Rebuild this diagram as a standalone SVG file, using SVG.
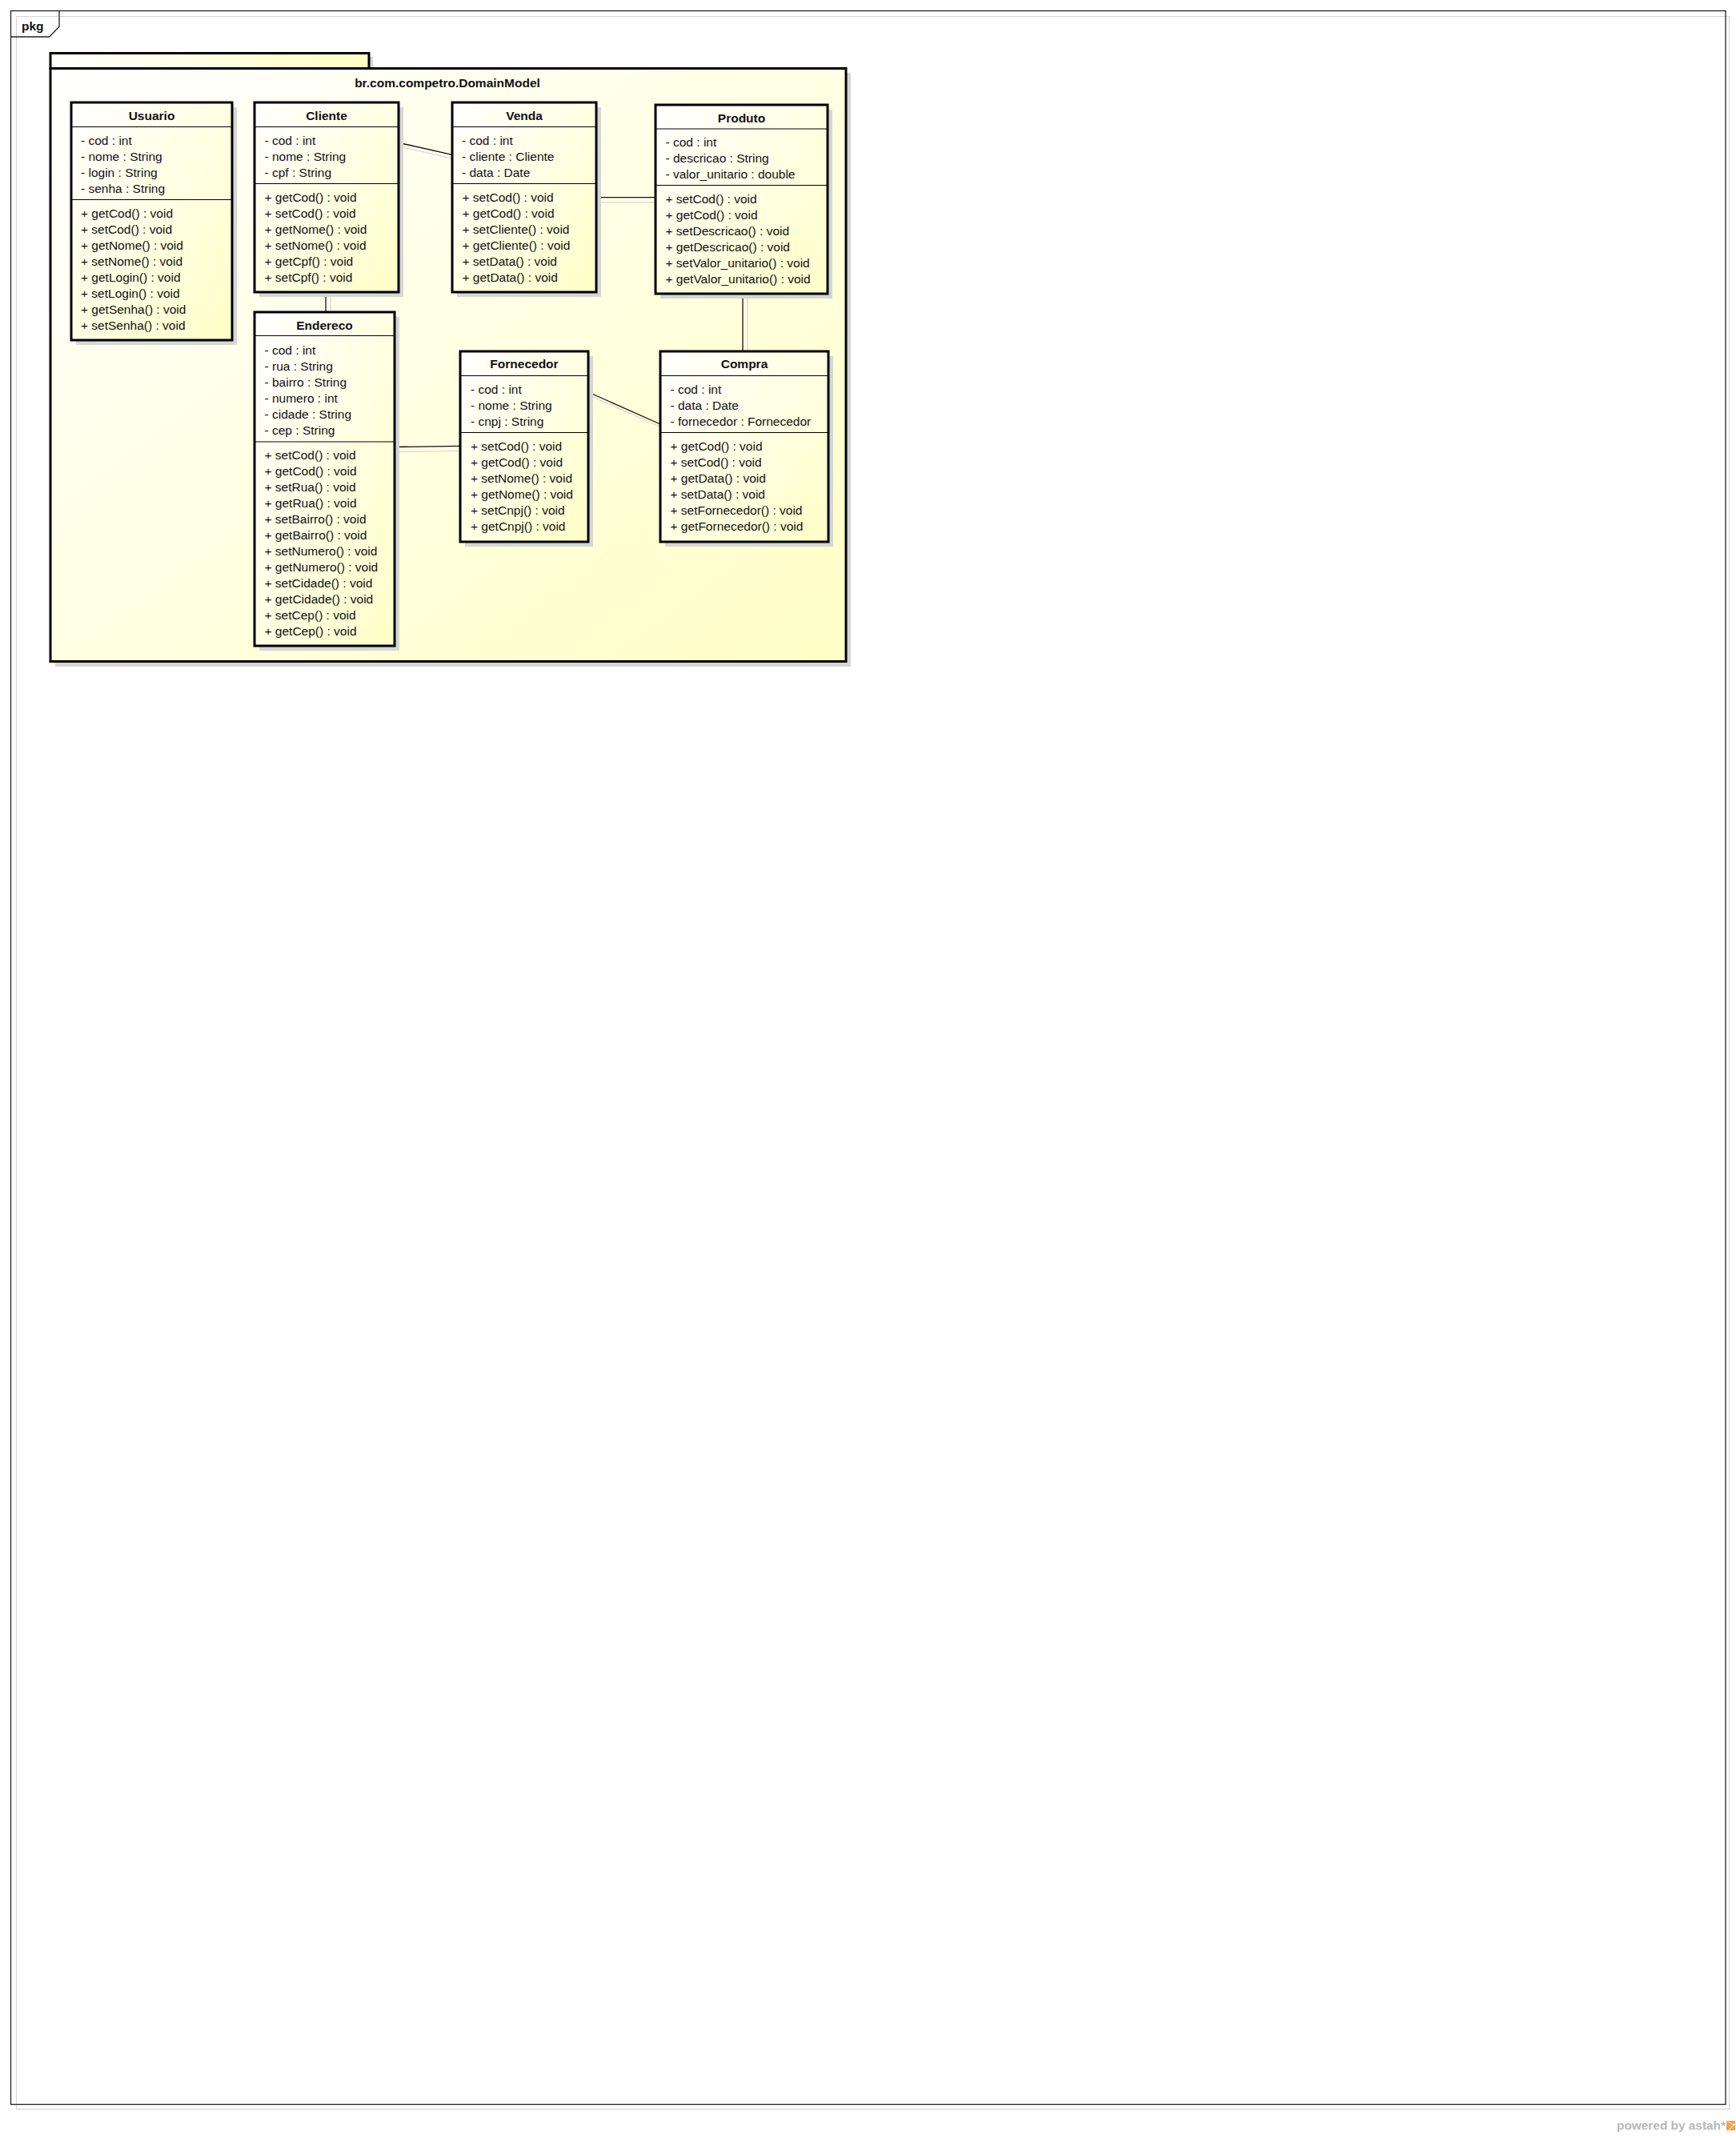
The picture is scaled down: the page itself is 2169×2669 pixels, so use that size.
<svg xmlns="http://www.w3.org/2000/svg" width="2169" height="2669" viewBox="0 0 2169 2669">
<style>
text{font-family:"Liberation Sans",Arial,sans-serif;font-size:15.5px;fill:#111}
.t{font-weight:bold;text-anchor:middle}
.box{fill:url(#cg);stroke:#000;stroke-width:3}
.sh{fill:#d6d6d6}
.div{stroke:#000;stroke-width:1.2}
.ln{stroke:#111;stroke-width:1.3;fill:none}
.lsh{stroke:#d9d9d9;stroke-width:1.3;fill:none}
</style>
<defs>
<linearGradient id="cg" x1="0" y1="0" x2="1" y2="1">
<stop offset="0" stop-color="#ffffff"/>
<stop offset="1" stop-color="#ffffc8"/>
</linearGradient>
<linearGradient id="pg" x1="0" y1="0" x2="1" y2="1">
<stop offset="0" stop-color="#ffffff"/>
<stop offset="1" stop-color="#ffffc6"/>
</linearGradient>
<linearGradient id="tg" x1="0" y1="0" x2="1" y2="0">
<stop offset="0" stop-color="#ffffff"/>
<stop offset="1" stop-color="#ffffc4"/>
</linearGradient>
</defs>
<rect width="2169" height="2669" fill="#fff"/>

<g id="frame">
<rect x="20.5" y="20.5" width="2140" height="2615" fill="none" stroke="#d8d8d8" stroke-width="1.2"/>
<rect x="13.5" y="13.5" width="2142.5" height="2616" fill="none" stroke="#222" stroke-width="1.3"/>
<path d="M13.5 46 H61.7 L74 33.3 V13.5" fill="none" stroke="#222" stroke-width="1.3"/>
<text x="27" y="37.5" style="font-weight:bold">pkg</text>
</g>

<g id="package">
<rect x="68" y="71" width="398" height="20" class="sh"/>
<rect x="69" y="91" width="994" height="742" class="sh"/>
<rect x="63" y="66.5" width="398" height="19" fill="url(#tg)" stroke="#000" stroke-width="3"/>
<rect x="63" y="85.5" width="994" height="741" fill="url(#pg)" stroke="#000" stroke-width="3"/>
<text x="559" y="108.5" class="t">br.com.competro.DomainModel</text>
</g>

<g id="connectors">
<g class="lsh">
<line x1="504" y1="184.3" x2="571" y2="199.3"/>
<line x1="751" y1="252.7" x2="825" y2="252.7"/>
<line x1="413" y1="371" x2="413" y2="396"/>
<line x1="934" y1="373" x2="934" y2="445"/>
<line x1="499" y1="564.5" x2="581" y2="563.3"/>
<line x1="741" y1="496" x2="831" y2="536"/>
</g>
<line class="ln" x1="498" y1="178.3" x2="565" y2="193.3"/>
<line class="ln" x1="745" y1="246.7" x2="819" y2="246.7"/>
<line class="ln" x1="407" y1="365" x2="407" y2="390"/>
<line class="ln" x1="928" y1="367" x2="928" y2="439"/>
<line class="ln" x1="493" y1="558.5" x2="575" y2="557.3"/>
<line class="ln" x1="735" y1="490" x2="825" y2="530"/>
</g>

<g id="Usuario">
<rect x="95" y="134" width="201" height="297" class="sh"/>
<rect x="89" y="128" width="201" height="297" class="box"/>
<line x1="89" y1="158.5" x2="290" y2="158.5" class="div"/>
<line x1="89" y1="249.5" x2="290" y2="249.5" class="div"/>
<text x="189.5" y="149.5" class="t">Usuario</text>
<text x="101" y="181">- cod : int</text>
<text x="101" y="201">- nome : String</text>
<text x="101" y="221">- login : String</text>
<text x="101" y="241">- senha : String</text>
<text x="101" y="271.7">+ getCod() : void</text>
<text x="101" y="291.7">+ setCod() : void</text>
<text x="101" y="311.7">+ getNome() : void</text>
<text x="101" y="331.7">+ setNome() : void</text>
<text x="101" y="351.7">+ getLogin() : void</text>
<text x="101" y="371.7">+ setLogin() : void</text>
<text x="101" y="391.7">+ getSenha() : void</text>
<text x="101" y="411.7">+ setSenha() : void</text>
</g>

<g id="Cliente">
<rect x="324" y="134" width="180" height="237" class="sh"/>
<rect x="318" y="128" width="180" height="237" class="box"/>
<line x1="318" y1="158.5" x2="498" y2="158.5" class="div"/>
<line x1="318" y1="229.5" x2="498" y2="229.5" class="div"/>
<text x="408" y="149.5" class="t">Cliente</text>
<text x="330.5" y="181">- cod : int</text>
<text x="330.5" y="201">- nome : String</text>
<text x="330.5" y="221">- cpf : String</text>
<text x="330.5" y="251.7">+ getCod() : void</text>
<text x="330.5" y="271.7">+ setCod() : void</text>
<text x="330.5" y="291.7">+ getNome() : void</text>
<text x="330.5" y="311.7">+ setNome() : void</text>
<text x="330.5" y="331.7">+ getCpf() : void</text>
<text x="330.5" y="351.7">+ setCpf() : void</text>
</g>

<g id="Venda">
<rect x="571" y="134" width="180" height="237" class="sh"/>
<rect x="565" y="128" width="180" height="237" class="box"/>
<line x1="565" y1="158.5" x2="745" y2="158.5" class="div"/>
<line x1="565" y1="229.5" x2="745" y2="229.5" class="div"/>
<text x="655" y="149.5" class="t">Venda</text>
<text x="577" y="181">- cod : int</text>
<text x="577" y="201">- cliente : Cliente</text>
<text x="577" y="221">- data : Date</text>
<text x="577.5" y="251.7">+ setCod() : void</text>
<text x="577.5" y="271.7">+ getCod() : void</text>
<text x="577.5" y="291.7">+ setCliente() : void</text>
<text x="577.5" y="311.7">+ getCliente() : void</text>
<text x="577.5" y="331.7">+ setData() : void</text>
<text x="577.5" y="351.7">+ getData() : void</text>
</g>

<g id="Produto">
<rect x="825" y="137" width="215" height="236" class="sh"/>
<rect x="819" y="131" width="215" height="236" class="box"/>
<line x1="819" y1="161" x2="1034" y2="161" class="div"/>
<line x1="819" y1="231.5" x2="1034" y2="231.5" class="div"/>
<text x="926.5" y="152.7" class="t">Produto</text>
<text x="831.5" y="182.7">- cod : int</text>
<text x="831.5" y="202.7">- descricao : String</text>
<text x="831.5" y="222.7">- valor_unitario : double</text>
<text x="831.5" y="254">+ setCod() : void</text>
<text x="831.5" y="274">+ getCod() : void</text>
<text x="831.5" y="294">+ setDescricao() : void</text>
<text x="831.5" y="314">+ getDescricao() : void</text>
<text x="831.5" y="334">+ setValor_unitario() : void</text>
<text x="831.5" y="354">+ getValor_unitario() : void</text>
</g>

<g id="Endereco">
<rect x="324" y="396" width="175" height="417" class="sh"/>
<rect x="318" y="390" width="175" height="417" class="box"/>
<line x1="318" y1="419.5" x2="493" y2="419.5" class="div"/>
<line x1="318" y1="552" x2="493" y2="552" class="div"/>
<text x="405.5" y="411.7" class="t">Endereco</text>
<text x="330.5" y="442.7">- cod : int</text>
<text x="330.5" y="462.7">- rua : String</text>
<text x="330.5" y="482.7">- bairro : String</text>
<text x="330.5" y="502.7">- numero : int</text>
<text x="330.5" y="522.7">- cidade : String</text>
<text x="330.5" y="542.7">- cep : String</text>
<text x="330.5" y="573.5">+ setCod() : void</text>
<text x="330.5" y="593.5">+ getCod() : void</text>
<text x="330.5" y="613.5">+ setRua() : void</text>
<text x="330.5" y="633.5">+ getRua() : void</text>
<text x="330.5" y="653.5">+ setBairro() : void</text>
<text x="330.5" y="673.5">+ getBairro() : void</text>
<text x="330.5" y="693.5">+ setNumero() : void</text>
<text x="330.5" y="713.5">+ getNumero() : void</text>
<text x="330.5" y="733.5">+ setCidade() : void</text>
<text x="330.5" y="753.5">+ getCidade() : void</text>
<text x="330.5" y="773.5">+ setCep() : void</text>
<text x="330.5" y="793.5">+ getCep() : void</text>
</g>

<g id="Fornecedor">
<rect x="581" y="445" width="160" height="238" class="sh"/>
<rect x="575" y="439" width="160" height="238" class="box"/>
<line x1="575" y1="469.5" x2="735" y2="469.5" class="div"/>
<line x1="575" y1="540.5" x2="735" y2="540.5" class="div"/>
<text x="655" y="460" class="t">Fornecedor</text>
<text x="588" y="491.7">- cod : int</text>
<text x="588" y="511.7">- nome : String</text>
<text x="588" y="531.7">- cnpj : String</text>
<text x="588" y="562.7">+ setCod() : void</text>
<text x="588" y="582.7">+ getCod() : void</text>
<text x="588" y="602.7">+ setNome() : void</text>
<text x="588" y="622.7">+ getNome() : void</text>
<text x="588" y="642.7">+ setCnpj() : void</text>
<text x="588" y="662.7">+ getCnpj() : void</text>
</g>

<g id="Compra">
<rect x="831" y="445" width="210" height="238" class="sh"/>
<rect x="825" y="439" width="210" height="238" class="box"/>
<line x1="825" y1="469.5" x2="1035" y2="469.5" class="div"/>
<line x1="825" y1="540.5" x2="1035" y2="540.5" class="div"/>
<text x="930" y="460" class="t">Compra</text>
<text x="837.5" y="491.7">- cod : int</text>
<text x="837.5" y="511.7">- data : Date</text>
<text x="837.5" y="531.7">- fornecedor : Fornecedor</text>
<text x="837.5" y="562.7">+ getCod() : void</text>
<text x="837.5" y="582.7">+ setCod() : void</text>
<text x="837.5" y="602.7">+ getData() : void</text>
<text x="837.5" y="622.7">+ setData() : void</text>
<text x="837.5" y="642.7">+ setFornecedor() : void</text>
<text x="837.5" y="662.7">+ getFornecedor() : void</text>
</g>

<g id="watermark">
<text x="2020" y="2661" style="font-weight:bold;font-size:15px;fill:#b8b8b8" textLength="136" lengthAdjust="spacingAndGlyphs">powered by astah*</text>
<rect x="2157" y="2650" width="11" height="12" fill="#f3a24a"/>
<path d="M2157 2650 L2168 2656 M2160 2662 L2168 2653" stroke="#fbd9a8" stroke-width="1.2"/>
</g>
</svg>
